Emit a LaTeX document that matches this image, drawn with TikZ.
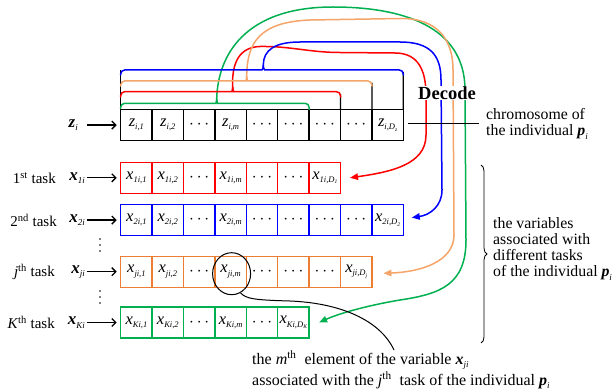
\documentclass[tikz,border=0pt]{standalone}
\usepackage{fontspec}
\setmainfont{Liberation Serif}
\usetikzlibrary{arrows.meta,shapes.geometric,decorations.pathreplacing}
\definecolor{cred}{RGB}{255,0,0}
\definecolor{cblue}{RGB}{0,0,255}
\definecolor{corD}{RGB}{237,125,49}
\definecolor{corL}{RGB}{245,165,105}
\definecolor{cgreen}{RGB}{0,176,80}
\newcommand\cv[2]{\textit{#1}\raisebox{-3.2pt}{\fontsize{8.5}{8.5}\selectfont\textit{#2}}}
\newcommand\cvD[3]{\textit{#1}\raisebox{-3.2pt}{\fontsize{8.5}{8.5}\selectfont\textit{#2,D}\raisebox{-1.5pt}{\fontsize{5.5}{5.5}\selectfont\textit{#3}}}}
\newcommand\bv[2]{\textbf{\textit{#1}}\raisebox{-3.2pt}{\fontsize{9}{9}\selectfont\textit{#2}}}
\newcommand\cd{$\cdots$}
\begin{document}
\begin{tikzpicture}[x=1pt,y=-1pt,
  cell/.style={draw, line width=1.3pt, minimum width=31.4pt, minimum height=31pt, inner sep=0pt, outer sep=0pt, anchor=west, text=black, font=\fontsize{16.5}{16.5}\selectfont},
  curve/.style={line width=1.5pt, line cap=round},
  tip/.style={-{Triangle[length=8pt,width=6.5pt]}},
  lbl/.style={font=\fontsize{15}{16}\selectfont, inner sep=0pt},
  vlbl/.style={font=\fontsize{17}{17}\selectfont, inner sep=0pt},
  rtxt/.style={font=\fontsize{15.8}{16}\selectfont, inner sep=0pt},
  vdot/.style={fill=black},
  larrow/.style={line width=1.3pt, -{Straight Barb[length=4pt,width=8pt]}, shorten >=4pt, shorten <=1.5pt}]
\useasboundingbox (0,0) rectangle (615,390);

% rows
\foreach \t [count=\k] in {{\cv{z}{i,1}},{\cv{z}{i,2}},\cd,{\cv{z}{i,m}},\cd,\cd,\cd,\cd,{\cvD{z}{i}{z}}}
  \node[cell, draw=black] (z\k) at ({120.7+(\k-1)*31.4},125.1) {\t};
\foreach \t [count=\k] in {{\cv{x}{1i,1}},{\cv{x}{1i,2}},\cd,{\cv{x}{1i,m}},\cd,\cd,{\cvD{x}{1i}{1}}}
  \node[cell, draw=cred] (a\k) at ({120.7+(\k-1)*31.4},177.8) {\t};
\foreach \t [count=\k] in {{\cv{x}{2i,1}},{\cv{x}{2i,2}},\cd,{\cv{x}{2i,m}},\cd,\cd,\cd,\cd,{\cvD{x}{2i}{2}}}
  \node[cell, draw=cblue] (b\k) at ({120.7+(\k-1)*31.4},220.1) {\t};
\foreach \t [count=\k] in {{\cv{x}{ji,1}},{\cv{x}{ji,2}},\cd,{\cv{x}{ji,m}},\cd,\cd,\cd,{\cvD{x}{ji}{j}}}
  \node[cell, draw=corD] (j\k) at ({120.7+(\k-1)*31.4},271.7) {\t};
\foreach \t [count=\k] in {{\cv{x}{Ki,1}},{\cv{x}{Ki,2}},\cd,{\cv{x}{Ki,m}},\cd,{\cvD{x}{Ki}{K}}}
  \node[cell, draw=cgreen] (K\k) at ({120.7+(\k-1)*31.4},322.5) {\t};

% left labels
\node[vlbl, anchor=east] (lz) at (78,125.1) {\bv{z}{i}};
\node[lbl, anchor=east] (t1) at (56,177.8) {1\textsuperscript{st} task};
\node[vlbl, anchor=east] (l1) at (85,177.8) {\bv{x}{1i}};
\node[lbl, anchor=east] (t2) at (57,220.1) {2\textsuperscript{nd} task};
\node[vlbl, anchor=east] (l2) at (85,220.1) {\bv{x}{2i}};
\node[lbl, anchor=east] (tj) at (55,271.7) {\textit{j}\textsuperscript{th} task};
\node[vlbl, anchor=east] (lj) at (85,271.7) {\bv{x}{ji}};
\node[lbl, anchor=east] (tK) at (55,322.5) {\textit{K}\textsuperscript{th} task};
\node[vlbl, anchor=east] (lK) at (85,322.5) {\bv{x}{Ki}};
% vertical ellipses
\foreach \yy in {239,245,251, 291,297,303} \fill[vdot] (100,\yy) circle (0.9);
\coordinate (lzs) at ([xshift=7pt]lz.east);
\draw[larrow] (lzs) -- (z1.west);
\draw[larrow] (l1.east) -- (a1.west);
\draw[larrow] (l2.east) -- (b1.west);
\draw[larrow] (lj.east) -- (j1.west);
\draw[larrow] (lK.east) -- (K1.west);

% black verticals above chromosome
\draw[line width=1.3pt] (z1.north west) -- (120.7,70);
\draw[line width=1.3pt] (z9.north east) -- (403.3,72);
\draw[line width=1.3pt] (z8.north east) -- (371.9,83);
\draw[line width=1.3pt] (z7.north east) -- (340.5,94);

% arrow tips
\coordinate (rtip) at ([xshift=9.5pt]a7.east);
\coordinate (btip) at ([shift={(8.5,-2.5)}]b9.east);
\coordinate (otip) at ([shift={(11.5,1.6)}]j8.east);
\coordinate (gtip) at ([shift={(10,0)}]K6.east);

% green
\draw[curve,cgreen] (309.1,109.6) [rounded corners=4pt] -- (309.1,103.3) -- (221.4,103.3) [sharp corners] .. controls (217.9,103.3) and (216.7,101.8) .. (216.7,98.5);
\draw[curve,cgreen,tip] (120.7,108.5) [rounded corners=4pt] -- (120.7,103.3) -- (212,103.3) [sharp corners] .. controls (215.5,103.3) and (216.7,101.8) .. (216.7,98.5) .. controls (218,55) and (245,7) .. (333,7) .. controls (400,7) and (465,25) .. (465,90) -- (466,240) .. controls (466,285) and (440,294) .. (400,300) .. controls (370,305) and (340,313) .. (gtip);
% red
\draw[curve,cred] (340.5,97) [rounded corners=4pt] -- (340.5,91.7) -- (237.4,91.7) [sharp corners] .. controls (233.9,91.7) and (232.7,90) .. (232.7,87);
\draw[curve,cred,tip] (120.7,97) [rounded corners=4pt] -- (120.7,91.7) -- (228,91.7) [sharp corners] .. controls (231.5,91.7) and (232.7,90) .. (232.7,87) .. controls (231.5,62) and (240,47) .. (260,46.5) .. controls (290,46) and (310,52.5) .. (340,52.5) -- (395,53) .. controls (418,53) and (426,70) .. (426,95) -- (426,135) .. controls (426,165) and (390,172) .. (rtip);
% orange
\draw[curve,corL] (371.9,86) [rounded corners=4pt] -- (371.9,81) -- (251.4,81) [sharp corners] .. controls (247.9,81) and (246.7,79.5) .. (246.7,76);
\draw[curve,corL,tip] (120.7,86) [rounded corners=4pt] -- (120.7,81) -- (242,81) [sharp corners] .. controls (245.5,81) and (246.7,79.5) .. (246.7,76) .. controls (247,42) and (260,22) .. (310,20) -- (400,18.5) .. controls (438,18) and (453,40) .. (453,70) -- (454,235) .. controls (454,262) and (420,272) .. (otip);
% blue
\draw[curve,cblue] (403.3,75) [rounded corners=4pt] -- (403.3,70) -- (268.6,70) [sharp corners] .. controls (264.6,70) and (263.3,68.5) .. (263.3,65);
\draw[curve,cblue,tip] (120.7,75) [rounded corners=4pt] -- (120.7,70) -- (258,70) [sharp corners] .. controls (262,70) and (263.3,68.5) .. (263.3,65) .. controls (263.3,50) and (275,42) .. (300,42) -- (400,42) .. controls (430,42) and (441,55) .. (441,80) -- (442,190) .. controls (442,206) and (430,215) .. (btip);

% Decode and chromosome
\node[font=\fontsize{18.5}{18.5}\selectfont\bfseries, fill=white, inner sep=0.5pt] (dec) at (447,93) {Decode};
\node[rtxt, anchor=west, align=left] (chr) at (486,124) {chromosome of\\the individual \bv{p}{i}};
\draw[line width=1pt] ([xshift=5pt]z9.east |- chr.west) -- ([xshift=-7pt]chr.west);

% brace and text
\coordinate (brt) at (481,165);
\coordinate (brb) at (481,343);
\draw[decorate, decoration={brace, amplitude=6pt}, line width=0.8pt] (brt) -- (brb);
\node[rtxt, anchor=west, align=left] (vars) at (493,249) {the variables\\associated with\\different tasks\\of the individual \bv{p}{i}};

% ellipse and annotation
\node[ellipse, draw, line width=1pt, minimum width=38pt, minimum height=42pt, inner sep=0pt] (ell) at ([shift={(1,2)}]j4.center) {};
\coordinate (annend) at (394,350);
\draw[line width=1pt] (ell.-65) .. controls (246,299) and (255,300) .. (290,301) .. controls (340,303) and (380,320) .. (annend);
\node[font=\fontsize{16}{16}\selectfont, inner sep=0pt, anchor=west] (ann1) at (252,360) {the \textit{m}\textsuperscript{th}\ \ element of the variable \bv{x}{ji}};
\node[font=\fontsize{16}{16}\selectfont, inner sep=0pt, anchor=west] (ann2) at (252,380) {associated with the \textit{j}\textsuperscript{th}\ \ task of the individual \bv{p}{i}};
\end{tikzpicture}
\end{document}
